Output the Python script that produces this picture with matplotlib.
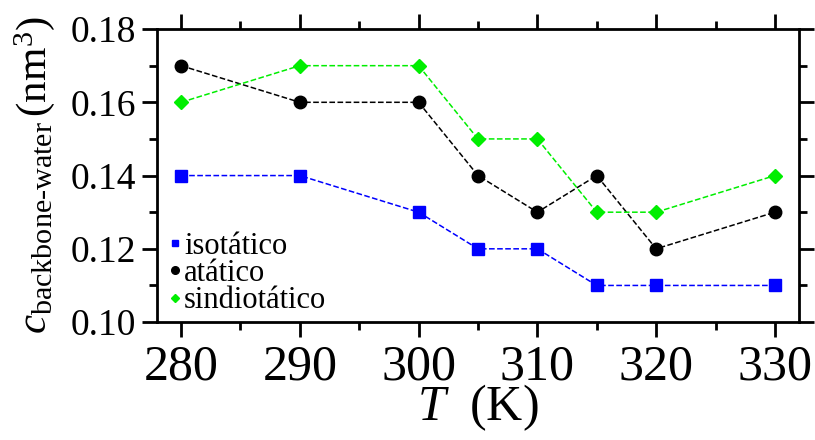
import matplotlib
matplotlib.use("Agg")
import matplotlib.pyplot as plt
import matplotlib.lines as mlines
from matplotlib.ticker import MultipleLocator, FormatStrFormatter

plt.rcParams['font.family'] = ['Liberation Serif', 'DejaVu Serif']
plt.rcParams['mathtext.fontset'] = 'custom'
plt.rcParams['mathtext.rm'] = 'Liberation Serif'
plt.rcParams['mathtext.it'] = 'Liberation Serif:italic'

temps = [280, 290, 300, 305, 310, 315, 320, 330]
isotatico = [0.14, 0.14, 0.13, 0.12, 0.12, 0.11, 0.11, 0.11]
atatico = [0.17, 0.16, 0.16, 0.14, 0.13, 0.14, 0.12, 0.13]
sindiotatico = [0.16, 0.17, 0.17, 0.15, 0.15, 0.13, 0.13, 0.14]
labels = ['isotático', 'atático', 'sindiotático']

blue = '#0000ff'
green = '#00ee00'

fig = plt.figure(figsize=(8.15, 4.4), dpi=100)
ax = fig.add_axes([0.193, 0.268, 0.787, 0.666])

ax.plot(temps, isotatico, color=blue, ls='--', lw=1.1, marker='s', ms=8)
ax.plot(temps, atatico, color='black', ls='--', lw=1.1, marker='o', ms=9)
ax.plot(temps, sindiotatico, color=green, ls='--', lw=1.1, marker='D', ms=7)

ax.set_xlim(278, 332)
ax.set_ylim(0.10, 0.18)
ax.xaxis.set_major_locator(MultipleLocator(10))
ax.xaxis.set_minor_locator(MultipleLocator(5))
ax.yaxis.set_major_locator(MultipleLocator(0.02))
ax.yaxis.set_minor_locator(MultipleLocator(0.01))
ax.yaxis.set_major_formatter(FormatStrFormatter('%.2f'))

for s in ax.spines.values():
    s.set_linewidth(2)
ax.tick_params(which='both', direction='out', top=True, right=True, width=2)
ax.tick_params(which='major', length=11)
ax.tick_params(which='minor', length=6)
ax.tick_params(axis='x', labelsize=36, pad=5)
ax.tick_params(axis='y', labelsize=27, pad=4)

ax.set_xlabel(r'$T\ $ (K)', fontsize=36, labelpad=-6)
ax.set_ylabel(r'$c_{\mathrm{backbone\text{-}water}}\,(\mathrm{nm}^3)$', fontsize=31, labelpad=10)

# legend: markers only, no line
handles = [mlines.Line2D([], [], color=blue, marker='s', ls='none', ms=5),
           mlines.Line2D([], [], color='black', marker='o', ls='none', ms=5.5),
           mlines.Line2D([], [], color=green, marker='D', ls='none', ms=4.5)]
ax.legend(handles, labels, loc='lower left', bbox_to_anchor=(-0.008, -0.04), frameon=False, fontsize=22,
          handlelength=0.3, handletextpad=0.15, labelspacing=-0.05,
          borderaxespad=0.3, borderpad=0.3)

fig.savefig('out.png', dpi=100)
